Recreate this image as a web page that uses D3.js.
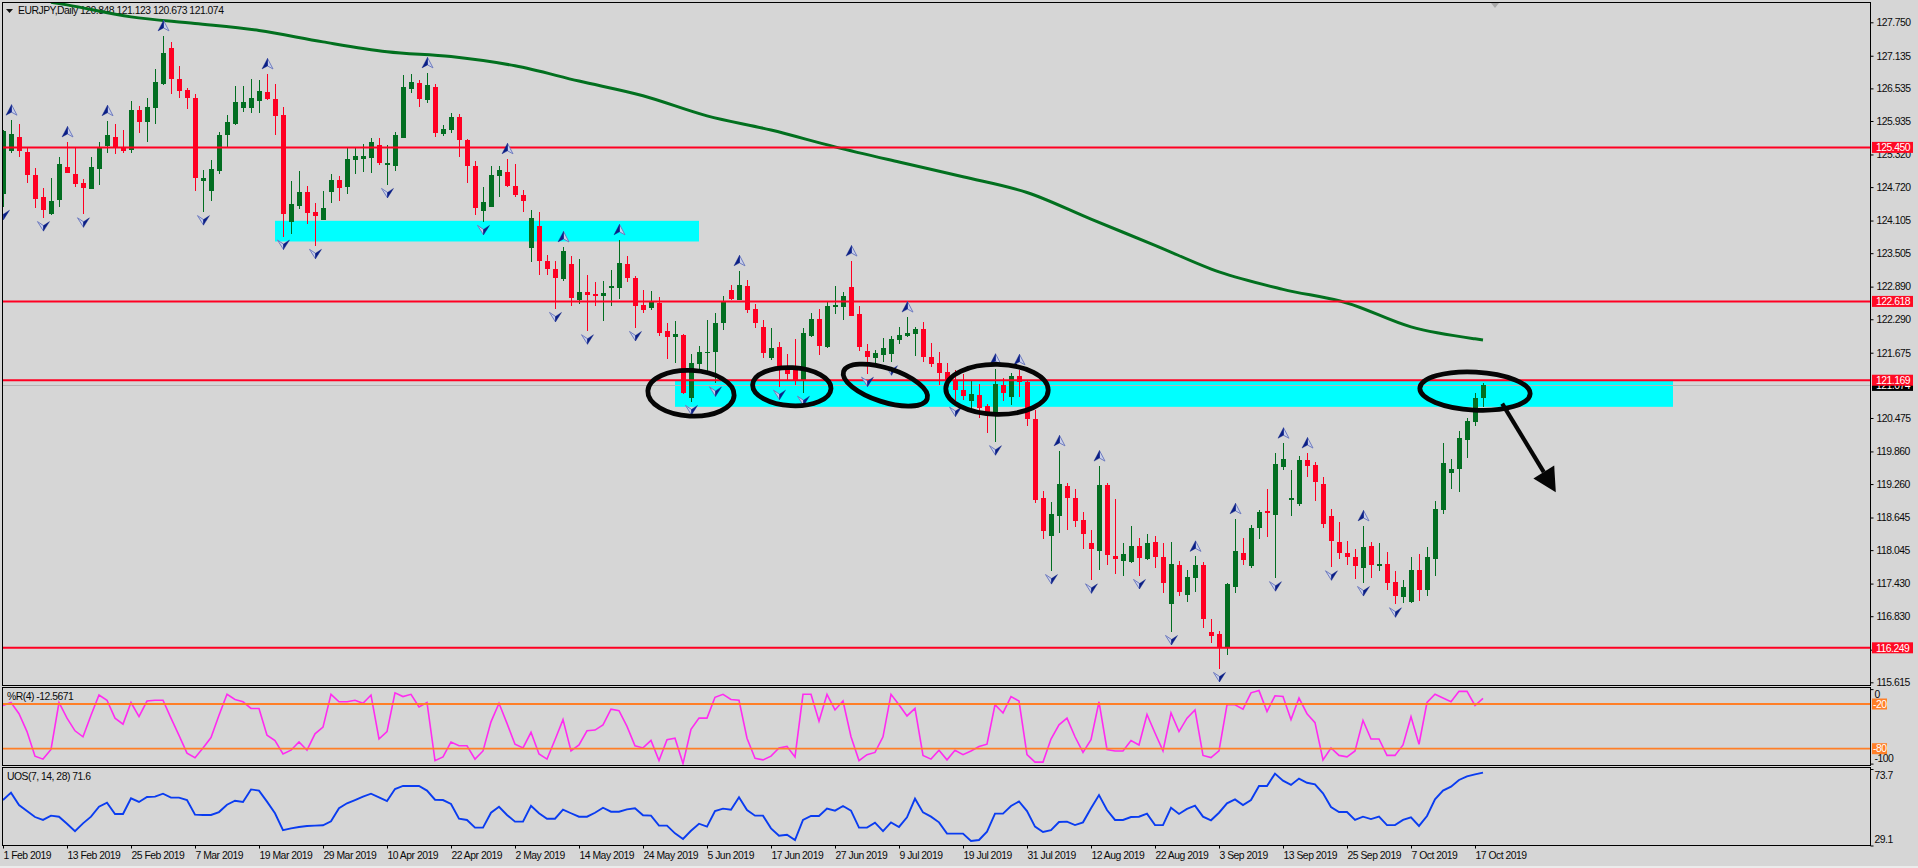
<!DOCTYPE html>
<html>
<head>
<meta charset="utf-8">
<title>EURJPY Daily</title>
<script src="https://cdn.jsdelivr.net/npm/d3@7"></script>
<style>
  html, body { margin: 0; padding: 0; background: #d6d6d6; overflow: hidden; }
  text { font-family: "Liberation Sans", Arial, sans-serif; font-size: 10.4px; letter-spacing: -0.5px; fill: #0a0a0a; }
</style>
</head>
<body>
<div id="chart"></div>
<script>
// Candles, one value per daily bar
var open = [
  124.60, 125.39, 125.64, 125.36, 124.94, 124.54, 124.23, 124.49, 125.09, 124.96,
  124.79, 124.69, 125.06, 125.48, 125.64, 125.44, 125.40, 126.14, 125.92, 126.18,
  126.62, 127.28, 126.71, 126.50, 126.36, 124.83, 124.65, 125.01, 125.68, 125.88,
  126.17, 126.17, 126.30, 126.47, 126.34, 126.05, 124.08, 124.37, 124.63, 124.26,
  124.11, 124.63, 124.85, 124.72, 125.22, 125.24, 125.25, 125.49, 125.14, 125.11,
  125.62, 126.52, 126.63, 126.32, 126.56, 125.70, 125.77, 126.01, 125.59, 125.11,
  124.28, 124.35, 124.92, 125.00, 124.74, 124.57, 123.60, 124.00, 123.36, 123.21,
  123.03, 123.30, 122.64, 122.79, 122.75, 122.72, 122.86, 122.86, 123.30, 123.05,
  122.55, 122.50, 122.59, 122.07, 121.96, 122.00, 120.84, 121.47, 121.67, 121.69,
  122.22, 122.83, 122.64, 122.90, 122.48, 122.15, 121.58, 121.78, 121.39, 121.36,
  121.17, 121.98, 122.29, 121.78, 122.51, 122.51, 122.88, 122.39, 121.71, 121.58,
  121.63, 121.65, 121.91, 121.98, 122.02, 122.11, 121.59, 121.48, 121.32, 121.17,
  120.99, 120.79, 120.90, 120.69, 120.58, 121.08, 120.86, 121.25, 121.13, 120.45,
  119.00, 118.30, 118.67, 119.22, 119.00, 118.60, 118.17, 118.03, 119.24, 117.93,
  117.84, 117.82, 118.12, 117.88, 118.19, 117.92, 117.05, 117.77, 117.22, 117.53,
  117.77, 116.54, 116.50, 116.24, 117.36, 117.99, 117.75, 118.45, 118.76, 118.69,
  119.57, 118.98, 118.89, 119.70, 119.61, 119.26, 118.67, 118.19, 117.99, 117.92,
  117.71, 118.12, 117.77, 117.79, 117.46, 117.18, 117.09, 117.68, 117.31, 117.88,
  118.78, 119.46, 119.53, 120.07, 120.40, 120.848
];
var high = [
  125.77, 125.95, 125.88, 125.45, 125.07, 124.70, 124.89, 125.27, 125.55, 125.45,
  124.86, 125.27, 125.55, 125.94, 125.88, 125.77, 126.30, 126.22, 126.35, 126.90,
  127.50, 127.39, 126.95, 126.54, 126.43, 125.03, 125.22, 125.74, 126.05, 126.58,
  126.58, 126.71, 126.69, 126.80, 126.62, 126.19, 124.83, 125.01, 124.74, 124.42,
  124.65, 124.96, 124.92, 125.46, 125.46, 125.51, 125.62, 125.62, 125.49, 125.73,
  126.78, 126.80, 126.69, 126.82, 126.62, 125.86, 126.08, 126.06, 125.60, 125.20,
  124.72, 125.11, 125.11, 125.24, 125.14, 124.67, 124.30, 124.26, 123.48, 123.36,
  123.62, 123.45, 123.39, 123.10, 122.97, 122.99, 123.19, 123.75, 123.45, 123.08,
  122.83, 122.81, 122.70, 122.22, 122.26, 122.02, 121.65, 121.80, 122.27, 122.40,
  122.72, 122.92, 123.18, 123.01, 122.57, 122.27, 122.13, 121.87, 121.65, 121.93,
  122.13, 122.40, 122.48, 122.61, 122.90, 122.79, 123.36, 122.53, 121.83, 121.72,
  121.94, 121.98, 122.15, 122.33, 122.15, 122.24, 121.85, 121.69, 121.48, 121.36,
  121.28, 121.15, 121.10, 120.74, 121.37, 121.21, 121.30, 121.36, 121.17, 120.62,
  119.13, 118.93, 119.87, 119.28, 119.17, 118.74, 118.41, 119.59, 119.28, 118.98,
  118.17, 118.49, 118.27, 118.34, 118.30, 118.17, 118.19, 117.84, 117.68, 117.93,
  117.82, 116.78, 116.56, 117.44, 118.62, 118.27, 118.50, 118.78, 119.17, 119.83,
  120.01, 119.52, 119.77, 119.83, 119.66, 119.39, 118.80, 118.56, 118.21, 118.06,
  118.49, 118.19, 118.17, 118.01, 117.66, 117.49, 117.92, 117.97, 118.10, 118.95,
  120.01, 119.72, 120.23, 120.47, 120.93, 121.123
];
var low = [
  124.36, 125.35, 125.28, 124.80, 124.33, 124.15, 124.21, 124.36, 124.98, 124.73,
  124.22, 124.69, 124.76, 125.34, 125.33, 125.35, 125.34, 125.72, 125.54, 125.88,
  126.60, 126.43, 126.36, 126.16, 124.65, 124.26, 124.47, 124.96, 125.46, 125.86,
  126.10, 126.08, 126.08, 126.32, 125.68, 123.81, 123.86, 124.32, 124.04, 123.64,
  124.11, 124.43, 124.46, 124.59, 124.96, 125.00, 124.98, 125.13, 124.76, 125.01,
  125.62, 126.45, 126.19, 126.27, 125.64, 125.66, 125.71, 125.27, 124.79, 124.21,
  124.08, 124.35, 124.54, 124.72, 124.54, 124.26, 123.34, 123.10, 123.10, 122.48,
  122.99, 122.53, 122.57, 122.07, 122.53, 122.26, 122.53, 122.66, 122.97, 122.13,
  122.40, 122.46, 121.98, 121.56, 121.48, 120.91, 120.77, 121.36, 121.26, 121.11,
  122.09, 122.64, 122.64, 122.40, 122.13, 121.58, 121.54, 121.05, 121.17, 121.08,
  120.94, 121.96, 121.63, 121.76, 122.39, 122.27, 122.35, 121.71, 121.29, 121.48,
  121.51, 121.50, 121.83, 121.96, 121.61, 121.50, 121.41, 121.08, 121.05, 120.74,
  120.80, 120.62, 120.47, 120.20, 120.03, 120.79, 120.71, 120.86, 120.33, 118.91,
  118.25, 117.66, 118.36, 118.41, 118.47, 118.06, 117.49, 117.68, 117.77, 117.60,
  117.57, 117.81, 117.57, 117.86, 117.71, 117.25, 116.54, 117.20, 117.09, 117.27,
  116.61, 116.33, 115.86, 116.11, 117.25, 117.77, 117.71, 118.25, 118.28, 117.53,
  119.52, 118.67, 118.85, 119.39, 118.95, 118.45, 117.73, 117.88, 117.77, 117.51,
  117.44, 117.53, 117.66, 117.31, 117.05, 117.07, 117.07, 117.11, 117.20, 117.57,
  118.71, 119.17, 119.11, 119.74, 120.33, 120.673
];
var close = [
  125.75, 125.70, 125.39, 124.95, 124.51, 124.29, 124.46, 125.14, 124.98, 124.78,
  124.70, 125.09, 125.44, 125.68, 125.46, 125.38, 126.14, 125.92, 126.20, 126.65,
  127.19, 126.71, 126.49, 126.36, 124.89, 124.89, 125.05, 125.68, 125.92, 126.28,
  126.28, 126.36, 126.49, 126.34, 126.03, 124.22, 124.41, 124.63, 124.24, 124.19,
  124.33, 124.85, 124.70, 125.24, 125.29, 125.29, 125.55, 125.16, 125.16, 125.68,
  126.56, 126.65, 126.34, 126.60, 125.71, 125.79, 126.01, 125.59, 125.11, 124.34,
  124.45, 124.94, 125.03, 124.74, 124.57, 124.46, 124.15, 123.36, 123.21, 123.05,
  123.54, 122.68, 122.79, 122.73, 122.72, 122.77, 122.90, 123.32, 123.04, 122.53,
  122.46, 122.61, 122.04, 121.96, 122.02, 120.93, 121.48, 121.69, 121.69, 122.22,
  122.61, 122.66, 122.92, 122.46, 122.22, 121.67, 121.76, 121.36, 121.28, 121.17,
  122.04, 122.29, 121.80, 122.53, 122.55, 122.72, 122.35, 121.78, 121.59, 121.67,
  121.76, 121.93, 122.00, 122.04, 122.11, 121.59, 121.47, 121.30, 121.17, 120.99,
  120.88, 120.91, 120.66, 120.58, 121.10, 120.93, 121.25, 121.13, 120.45, 118.97,
  118.40, 118.71, 119.26, 119.00, 118.58, 118.34, 118.06, 119.24, 117.95, 117.88,
  117.97, 118.12, 117.90, 118.17, 117.92, 117.44, 117.79, 117.27, 117.55, 117.77,
  116.78, 116.46, 116.24, 117.42, 118.03, 117.86, 118.45, 118.74, 118.73, 119.63,
  119.72, 119.00, 119.70, 119.59, 119.30, 118.52, 118.21, 117.99, 117.92, 117.75,
  118.10, 117.77, 117.79, 117.44, 117.20, 117.36, 117.68, 117.31, 117.92, 118.80,
  119.65, 119.53, 120.10, 120.42, 120.84, 121.074
];

// 200 period average, read at every 8th bar
var maBars = [6, 8, 16, 24, 32, 40, 48, 56, 64, 72, 80, 88, 96, 104, 112, 120, 128, 136, 144, 152, 160, 168, 176, 184, 185];
var maValues = [
  128.12, 128.07, 127.85, 127.73, 127.60, 127.39, 127.21, 127.12, 126.95, 126.67, 126.40, 126.03, 125.77,
  125.46, 125.18, 124.91, 124.62, 124.13, 123.65, 123.16, 122.84, 122.59, 122.15, 121.93, 121.91
];

// Indicator panes
var wprValues = [
  -22, -18, -33, -57, -90, -94, -81, -18, -39, -56, -64, -35, -8, -15, -39, -47, -18, -37, -16, -15,
  -15, -39, -62, -86, -92, -79, -65, -35, -7, -14, -17, -26, -26, -62, -69, -87, -82, -71, -82, -60,
  -51, -7, -17, -17, -15, -19, -8, -67, -57, -5, -10, -7, -24, -18, -96, -91, -71, -76, -76, -94,
  -83, -44, -19, -46, -74, -79, -58, -87, -94, -68, -41, -83, -75, -56, -55, -48, -27, -29, -50, -76,
  -79, -69, -96, -68, -66, -100, -54, -39, -39, -11, -7, -14, -15, -66, -93, -95, -90, -79, -77, -91,
  -7, -7, -43, -7, -28, -16, -64, -96, -88, -85, -64, -7, -21, -36, -26, -89, -94, -82, -95, -82,
  -88, -83, -77, -74, -21, -32, -10, -16, -88, -98, -98, -67, -48, -39, -64, -85, -68, -17, -81, -83,
  -83, -69, -75, -34, -59, -83, -32, -57, -39, -28, -89, -92, -83, -21, -21, -27, -5, -2, -30, -9,
  -10, -41, -12, -33, -45, -95, -79, -89, -91, -83, -42, -67, -67, -89, -89, -75, -37, -74, -18, -7,
  -12, -17, -3, -3, -22, -12.57
];
var uosValues = [
  55.6, 59.9, 52.7, 49.2, 45.7, 44.0, 46.5, 45.9, 41.8, 37.5, 42.0, 45.9, 51.7, 54.1, 47.5, 47.5, 56.6, 54.5, 57.4, 57.6,
  59.3, 57.0, 57.0, 55.6, 47.1, 46.9, 46.9, 48.6, 52.9, 55.2, 54.5, 61.8, 61.1, 54.7, 47.9, 38.1, 39.1, 39.9, 40.5, 40.7,
  40.9, 43.2, 50.8, 53.7, 55.6, 57.6, 59.3, 57.2, 55.0, 62.0, 63.8, 63.8, 63.8, 61.1, 55.8, 55.6, 53.3, 44.7, 44.0, 39.5,
  39.5, 48.2, 51.7, 46.9, 43.0, 43.0, 52.3, 47.9, 44.7, 44.7, 50.0, 47.9, 45.9, 45.9, 48.2, 51.1, 48.8, 48.8, 50.2, 50.8,
  46.7, 46.5, 40.7, 40.7, 36.2, 32.9, 37.7, 41.8, 40.1, 49.2, 50.6, 50.0, 57.2, 49.8, 46.5, 46.5, 39.1, 34.8, 35.4, 32.3,
  44.0, 46.3, 46.3, 50.6, 49.4, 52.1, 49.4, 39.5, 39.5, 42.4, 37.5, 42.6, 39.9, 45.5, 56.4, 48.4, 45.9, 42.6, 36.0, 36.0,
  36.0, 31.7, 32.3, 37.2, 47.7, 47.7, 52.1, 54.8, 49.2, 40.1, 37.0, 38.1, 42.8, 43.0, 41.0, 42.6, 50.8, 58.5, 49.8, 44.0,
  44.0, 45.7, 45.9, 47.7, 41.0, 41.0, 51.1, 47.5, 50.4, 52.3, 45.9, 43.8, 48.2, 53.7, 56.0, 52.7, 55.6, 63.8, 63.8, 71.0,
  66.9, 64.4, 68.1, 65.7, 64.8, 59.5, 51.5, 48.6, 48.6, 44.0, 45.9, 44.5, 45.9, 41.0, 41.0, 44.0, 45.5, 40.5, 46.3, 56.0,
  61.1, 63.4, 67.3, 69.4, 70.6, 71.6
];

// Fractal arrows, by bar number
var fractalsUp = [1, 8, 13, 20, 33, 53, 63, 70, 77, 92, 106, 113, 124, 127, 132, 137, 149, 154, 160, 163, 170];
var fractalsDown = [0, 5, 10, 25, 35, 39, 48, 60, 69, 73, 79, 86, 89, 97, 100, 108, 111, 119, 124, 131, 136, 142, 146, 152, 159, 166, 170, 174];

// Axis labels
var dateLabels = [
  "1 Feb 2019", "13 Feb 2019", "25 Feb 2019", "7 Mar 2019", "19 Mar 2019", "29 Mar 2019", "10 Apr 2019", "22 Apr 2019",
  "2 May 2019", "14 May 2019", "24 May 2019", "5 Jun 2019", "17 Jun 2019", "27 Jun 2019", "9 Jul 2019", "19 Jul 2019",
  "31 Jul 2019", "12 Aug 2019", "22 Aug 2019", "3 Sep 2019", "13 Sep 2019", "25 Sep 2019", "7 Oct 2019", "17 Oct 2019"
];
var priceTicks = [127.750, 127.135, 126.535, 125.935, 125.320, 124.720, 124.105, 123.505, 122.890, 122.290, 121.675,
  120.475, 119.860, 119.260, 118.645, 118.045, 117.430, 116.830, 116.215, 115.615];

// Levels and drawn objects on the price chart
var redLevels = [125.450, 122.618, 121.169, 116.249];
var lastPrice = 121.074;
var wprLevels = [-20, -80];
var zoneBarsStart = [34, 84];
var zoneBarsEnd = [87, 208.75];
var zoneTop = [124.10, 121.155];
var zoneBottom = [123.72, 120.68];
var ringBars = [86, 98.6, 110.3, 124.25, 184];
var ringPrices = [120.93, 121.05, 121.08, 121.00, 120.97];
var ringBarRadius = [5.4, 4.9, 5.5, 6.4, 6.9];
var ringPriceRadius = [0.42, 0.35, 0.31, 0.46, 0.35];
var ringTilt = [3, 3, 18, 1, 3];
var arrowBars = [187.4, 194.1];
var arrowPrices = [120.74, 119.11];
var arrowHeadBars = [194.1, 191.3, 193.9];
var arrowHeadPrices = [119.11, 119.36, 119.60];

var svgWidth = 1918;
var svgHeight = 868;

var plot = { left: 2.5, right: 1870.5 };
var mainPane = { top: 2.5, bottom: 685.5 };
var wprPane = { top: 687.5, bottom: 765.5 };
var uosPane = { top: 767.5, bottom: 845.5 };

var colors = {
  bg: "#d6d6d6", up: "#026e21", down: "#ff0022", level: "#ff0022", ma: "#02701f",
  zone: "#00ffff", osc: "#ff2cf0", uos: "#0a3cf0", orange: "#ff7f27"
};

var svg = d3.select("#chart")
  .append("svg")
  .attr("width", svgWidth)
  .attr("height", svgHeight)
  .style("display", "block");

svg.append("rect")
  .attr("width", svgWidth)
  .attr("height", svgHeight)
  .attr("fill", colors.bg);

svg.append("rect")
  .attr("y", 866)
  .attr("width", svgWidth)
  .attr("height", 2)
  .attr("fill", "#ececec");

// clip paths so that nothing leaves its pane
function addClip(id, pane) {
  svg.append("clipPath").attr("id", id)
    .append("rect")
    .attr("x", plot.left)
    .attr("y", pane.top)
    .attr("width", plot.right - plot.left)
    .attr("height", pane.bottom - pane.top);
}
addClip("clipMain", mainPane);
addClip("clipWpr", wprPane);
addClip("clipUos", uosPane);

// Scales: 8 pixels per bar
var xScale = d3.scaleLinear().domain([0, 208]).range([3, 1667]);
var yPrice = d3.scaleLinear().domain([127.75, 115.615]).range([22.3, 682.3]);
var yWpr = d3.scaleLinear().domain([0, -100]).range([689.1, 763.6]);
var yUos = d3.scaleLinear().domain([73.7, 29.1]).range([769, 845.5]);

var mainGroup = svg.append("g").attr("clip-path", "url(#clipMain)");

// Title goes under the lines, the average runs across it
svg.append("path")
  .attr("d", d3.line()([[6, 9], [13, 9], [9.5, 13]]) + "Z")
  .attr("fill", "#111");
mainGroup.append("text")
  .attr("x", 18)
  .attr("y", 14)
  .text("EURJPY,Daily  120.848 121.123 120.673 121.074");

// Cyan zones
mainGroup.selectAll(".zone")
  .data(zoneTop)
  .enter()
  .append("rect")
  .attr("class", "zone")
  .attr("x", (d, i) => xScale(zoneBarsStart[i]))
  .attr("y", d => yPrice(d))
  .attr("width", (d, i) => xScale(zoneBarsEnd[i]) - xScale(zoneBarsStart[i]))
  .attr("height", (d, i) => yPrice(zoneBottom[i]) - yPrice(d))
  .attr("fill", colors.zone);

// Last price line
mainGroup.append("line")
  .attr("x1", plot.left)
  .attr("x2", plot.right)
  .attr("y1", Math.round(yPrice(lastPrice)) + 0.5)
  .attr("y2", Math.round(yPrice(lastPrice)) + 0.5)
  .attr("stroke", "#b4b4b4")
  .attr("stroke-width", 1);

// Candles
var candles = mainGroup.selectAll(".candle")
  .data(open)
  .enter()
  .append("g")
  .attr("class", "candle")
  .attr("shape-rendering", "crispEdges")
  .attr("fill", (d, i) => close[i] >= d ? colors.up : colors.down);

candles.append("rect")
  .attr("x", (d, i) => xScale(i))
  .attr("y", (d, i) => yPrice(high[i]))
  .attr("width", 1)
  .attr("height", (d, i) => yPrice(low[i]) - yPrice(high[i]));

candles.append("rect")
  .attr("x", (d, i) => xScale(i) - 2)
  .attr("y", (d, i) => yPrice(Math.max(d, close[i])))
  .attr("width", 5)
  .attr("height", (d, i) => Math.max(1.5, Math.abs(yPrice(d) - yPrice(close[i]))));

// Moving average
var maLine = d3.line()
  .x((d, i) => xScale(maBars[i]))
  .y(d => yPrice(d))
  .curve(d3.curveMonotoneX);

mainGroup.append("path")
  .attr("d", maLine(maValues))
  .attr("fill", "none")
  .attr("stroke", colors.ma)
  .attr("stroke-width", 3);

// Horizontal levels
mainGroup.selectAll(".level")
  .data(redLevels)
  .enter()
  .append("line")
  .attr("class", "level")
  .attr("x1", plot.left)
  .attr("x2", plot.right)
  .attr("y1", d => yPrice(d))
  .attr("y2", d => yPrice(d))
  .attr("stroke", colors.level)
  .attr("stroke-width", 2);

// Fractal arrows: one half solid, other half just outlined
function drawFractals(bars, isUp) {
  var marks = mainGroup.selectAll(isUp ? ".fUp" : ".fDown")
    .data(bars)
    .enter()
    .append("g")
    .attr("class", isUp ? "fUp" : "fDown")
    .attr("transform", d => isUp
      ? `translate(${xScale(d) + 0.5}, ${yPrice(high[d]) - 10})`
      : `translate(${xScale(d) + 0.5}, ${yPrice(low[d]) + 8})`);

  marks.append("path")
    .attr("d", isUp ? "M0,-5.5 L5.5,5 L0,2 Z" : "M0,5 L-6,-4.5 L0,-0.5 Z")
    .attr("fill", "#c9d0ea")
    .attr("stroke", "#6f7cc0")
    .attr("stroke-width", 1);

  marks.append("path")
    .attr("d", isUp ? "M0,-5.5 L-5.5,5 L0,2 Z" : "M0,5 L6,-4.5 L0,-0.5 Z")
    .attr("fill", "#0b1f86")
    .attr("stroke", "#0b1f86")
    .attr("stroke-width", 0.4);
}
drawFractals(fractalsUp, true);
drawFractals(fractalsDown, false);

// Hand drawn rings and the arrow
mainGroup.selectAll(".ring")
  .data(ringBars)
  .enter()
  .append("ellipse")
  .attr("class", "ring")
  .attr("rx", (d, i) => xScale(ringBarRadius[i]) - xScale(0))
  .attr("ry", (d, i) => yPrice(0) - yPrice(ringPriceRadius[i]))
  .attr("transform", (d, i) => `translate(${xScale(d)}, ${yPrice(ringPrices[i])}) rotate(${ringTilt[i]})`)
  .attr("fill", "none")
  .attr("stroke", "#050505")
  .attr("stroke-width", 4.8);

mainGroup.append("line")
  .attr("x1", xScale(arrowBars[0]))
  .attr("y1", yPrice(arrowPrices[0]))
  .attr("x2", xScale((arrowHeadBars[1] + arrowHeadBars[2]) / 2))
  .attr("y2", yPrice((arrowHeadPrices[1] + arrowHeadPrices[2]) / 2))
  .attr("stroke", "#050505")
  .attr("stroke-width", 4.2);

mainGroup.append("path")
  .datum(arrowHeadBars.map((d, i) => [xScale(d), yPrice(arrowHeadPrices[i])]))
  .attr("d", d => d3.line()(d) + "Z")
  .attr("fill", "#050505");

// small shift marker at the top of the chart
svg.append("path")
  .attr("d", d3.line()([[1491, 3], [1499, 3], [1495, 8]]) + "Z")
  .attr("fill", "#a9a9a9");

// Indicator lines
var wprGroup = svg.append("g").attr("clip-path", "url(#clipWpr)");

wprGroup.append("path")
  .attr("d", d3.line().x((d, i) => xScale(i)).y(d => yWpr(d))(wprValues))
  .attr("fill", "none")
  .attr("stroke", colors.osc)
  .attr("stroke-width", 1.6);

wprGroup.selectAll(".wprLevel")
  .data(wprLevels)
  .enter()
  .append("line")
  .attr("class", "wprLevel")
  .attr("x1", plot.left)
  .attr("x2", plot.right)
  .attr("y1", d => yWpr(d))
  .attr("y2", d => yWpr(d))
  .attr("stroke", colors.orange)
  .attr("stroke-width", 1.8);

svg.append("g").attr("clip-path", "url(#clipUos)")
  .append("path")
  .attr("d", d3.line().x((d, i) => xScale(i)).y(d => yUos(d))(uosValues))
  .attr("fill", "none")
  .attr("stroke", colors.uos)
  .attr("stroke-width", 1.9);

svg.append("text").attr("x", 7).attr("y", 700).text("%R(4) -12.5671");
svg.append("text").attr("x", 7).attr("y", 780).text("UOS(7, 14, 28) 71.6");

// Pane frames
[mainPane, wprPane, uosPane].forEach(function (pane) {
  svg.append("rect")
    .attr("x", plot.left)
    .attr("y", pane.top)
    .attr("width", plot.right - plot.left)
    .attr("height", pane.bottom - pane.top)
    .attr("fill", "none")
    .attr("stroke", "#000")
    .attr("stroke-width", 1);
});

// Right axes
var priceAxis = d3.axisRight(yPrice)
  .tickValues(priceTicks)
  .tickSize(3)
  .tickPadding(3)
  .tickFormat(d3.format(".3f"));

var wprAxis = d3.axisRight(yWpr)
  .tickValues([0, -100])
  .tickSize(3)
  .tickPadding(1);

var uosAxis = d3.axisRight(yUos)
  .tickValues([73.7, 29.1])
  .tickSize(3)
  .tickPadding(1);

function drawRightAxis(axis) {
  var g = svg.append("g")
    .attr("transform", `translate(${plot.right}, 0)`)
    .call(axis);
  g.select(".domain").remove();
  g.selectAll("text").attr("font-size", null).attr("font-family", null);
  g.attr("font-size", null).attr("font-family", null);
  g.selectAll(".tick line").attr("stroke", "#000");
  return g;
}

drawRightAxis(priceAxis);
// top and bottom labels of the small panes sit inside their tick
drawRightAxis(wprAxis).selectAll("text")
  .attr("dy", d => d === 0 ? "0.85em" : "-0.2em")
  .text(d => d);
drawRightAxis(uosAxis).selectAll("text")
  .attr("dy", d => d === 73.7 ? "0.9em" : "-0.3em")
  .text(d => d.toFixed(1));

// Price tags, last price first so the red one covers it
function priceTag(price, boxColor, label, boxWidth, textX, scale) {
  var y = scale(price);
  svg.append("rect")
    .attr("x", 1872)
    .attr("y", y - 5.5)
    .attr("width", boxWidth)
    .attr("height", 11)
    .attr("fill", boxColor);
  svg.append("text")
    .attr("x", textX)
    .attr("y", y + 3.7)
    .style("fill", "#fff")
    .text(label);
}
priceTag(lastPrice, "#000", lastPrice.toFixed(3), 41, 1876, yPrice);
redLevels.forEach(function (d) {
  priceTag(d, "#ff0a24", d.toFixed(3), 41, 1876, yPrice);
});
wprLevels.forEach(function (d) {
  priceTag(d, colors.orange, d, 15, 1873, yWpr);
});

// Time axis: a label every 8 bars
var dateAxis = d3.axisBottom(xScale)
  .tickValues(dateLabels.map((d, i) => i * 8))
  .tickSize(3)
  .tickPadding(3)
  .tickFormat((d, i) => dateLabels[i]);

var dateGroup = svg.append("g")
  .attr("transform", `translate(0, ${uosPane.bottom})`)
  .call(dateAxis);

dateGroup.attr("font-size", null).attr("font-family", null);
dateGroup.select(".domain").remove();
dateGroup.selectAll(".tick line").attr("stroke", "#000");
dateGroup.selectAll("text")
  .attr("text-anchor", "start");
</script>
</body>
</html>
